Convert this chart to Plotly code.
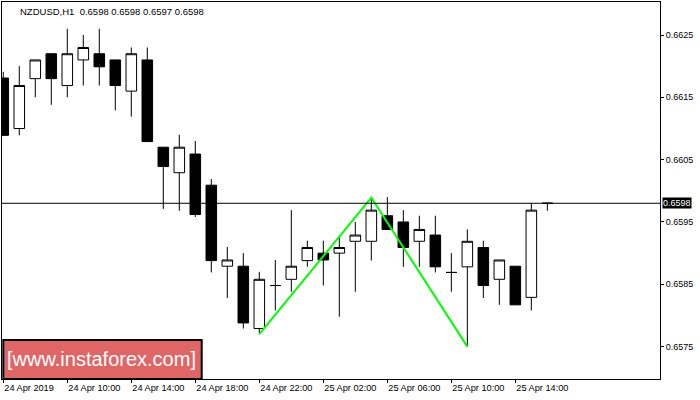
import plotly.graph_objects as go

# ---- data (NZDUSD H1) ----
bar_index = list(range(35))
opens = [0.66181, 0.66100, 0.66180, 0.66220, 0.66169, 0.66210, 0.66220, 0.66210, 0.66160, 0.66210,
         0.66070, 0.66029, 0.66059, 0.66009, 0.65879, 0.65879, 0.65779, 0.65848, 0.65858, 0.65888,
         0.65900, 0.65900, 0.65919, 0.65919, 0.65960, 0.65950, 0.65919, 0.65929, 0.65869, 0.65878,
         0.65909, 0.65858, 0.65879, 0.65829, 0.65980]
highs = [0.66191, 0.66200, 0.66210, 0.66220, 0.66260, 0.66250, 0.66260, 0.66210, 0.66230, 0.66230,
         0.66070, 0.66090, 0.66080, 0.66019, 0.65910, 0.65900, 0.65870, 0.65889, 0.65969, 0.65920,
         0.65920, 0.65925, 0.65950, 0.65989, 0.65990, 0.65969, 0.65960, 0.65960, 0.65900, 0.65938,
         0.65920, 0.65889, 0.65879, 0.65980, 0.65981]
lows = [0.66089, 0.66089, 0.66150, 0.66138, 0.66150, 0.66169, 0.66169, 0.66129, 0.66119, 0.66079,
        0.65971, 0.65968, 0.65958, 0.65869, 0.65828, 0.65779, 0.65770, 0.65808, 0.65838, 0.65878,
        0.65848, 0.65798, 0.65838, 0.65888, 0.65938, 0.65878, 0.65878, 0.65869, 0.65838, 0.65750,
        0.65828, 0.65817, 0.65817, 0.65808, 0.65968]
closes = [0.66089, 0.66169, 0.66210, 0.66180, 0.66220, 0.66230, 0.66199, 0.66169, 0.66220, 0.66079,
          0.66039, 0.66070, 0.65962, 0.65888, 0.65889, 0.65788, 0.65858, 0.65848, 0.65879, 0.65909,
          0.65889, 0.65909, 0.65929, 0.65969, 0.65938, 0.65909, 0.65938, 0.65878, 0.65869, 0.65919,
          0.65848, 0.65889, 0.65817, 0.65969, 0.65980]

tick_positions = [0, 4, 8, 12, 16, 20, 24, 28, 32]
tick_labels = ["24 Apr 2019", "24 Apr 10:00", "24 Apr 14:00", "24 Apr 18:00", "24 Apr 22:00",
               "25 Apr 02:00", "25 Apr 06:00", "25 Apr 10:00", "25 Apr 14:00"]
price_ticks = [0.6575, 0.6585, 0.6595, 0.6605, 0.6615, 0.6625]

pattern_x = [16, 23, 29]
pattern_y = [0.65770, 0.65989, 0.65750]

current_price = 0.6598
title_text = "NZDUSD,H1\u00a0\u00a00.6598 0.6598 0.6597 0.6598"

# ---- figure ----
fig = go.Figure()
fig.add_trace(go.Candlestick(
    x=bar_index, open=opens, high=highs, low=lows, close=closes,
    increasing=dict(fillcolor="white", line=dict(color="black", width=1)),
    decreasing=dict(fillcolor="black", line=dict(color="black", width=1)),
    whiskerwidth=0, hoverinfo="skip", showlegend=False,
))
fig.add_trace(go.Scatter(
    x=pattern_x, y=pattern_y, mode="lines",
    line=dict(color="#00FF00", width=2), hoverinfo="skip", showlegend=False,
))

fig.add_shape(type="line", xref="paper", x0=0, x1=1, yref="y", y0=current_price, y1=current_price,
              line=dict(color="black", width=1))

# logo box
fig.add_shape(type="rect", xref="paper", yref="paper", x0=0.002, x1=0.3035, y0=0.0, y1=0.1034,
              fillcolor="#E06666", line=dict(color="black", width=2))
fig.add_annotation(xref="paper", yref="paper", x=0.151, y=0.052, text="[www.instaforex.com]",
                   showarrow=False, xanchor="center", yanchor="middle",
                   font=dict(family="Liberation Sans, Arial", size=20, color="white"))

# title
fig.add_annotation(xref="paper", yref="paper", x=0.0248, y=0.976, text=title_text,
                   showarrow=False, xanchor="left", yanchor="middle",
                   font=dict(family="Liberation Sans, Arial", size=9.5, color="black"))

# current price label
fig.add_annotation(xref="paper", yref="y", x=1.0, y=current_price, text="0.6598",
                   showarrow=False, xanchor="left", yanchor="middle", xshift=2,
                   bgcolor="black", borderpad=0,
                   font=dict(family="Liberation Sans, Arial", size=9, color="white"))

fig.update_layout(
    width=700, height=400,
    margin=dict(l=2, r=40, t=2, b=21),
    paper_bgcolor="white", plot_bgcolor="white",
    boxgap=0.34, boxgroupgap=0,
    showlegend=False,
    xaxis=dict(
        range=[-0.08, 41.04], rangeslider=dict(visible=False),
        tickmode="array", tickvals=tick_positions, ticktext=tick_labels,
        ticks="outside", ticklen=3, tickcolor="black", tickwidth=1,
        ticklabelposition="outside right",
        showline=True, linecolor="black", linewidth=1, mirror=True,
        showgrid=False, zeroline=False,
        tickfont=dict(family="Liberation Sans, Arial", size=9.2, color="black"),
    ),
    yaxis=dict(
        range=[0.65698, 0.66303], side="right", automargin=False,
        tickmode="array", tickvals=price_ticks, tickformat=".4f",
        ticks="outside", ticklen=3, tickcolor="black", tickwidth=1,
        showline=True, linecolor="black", linewidth=1, mirror=True,
        showgrid=False, zeroline=False,
        tickfont=dict(family="Liberation Sans, Arial", size=9, color="black"),
    ),
)

fig.write_html("out.html", config={"displayModeBar": False},
               post_script="document.body.style.margin='0px';")
